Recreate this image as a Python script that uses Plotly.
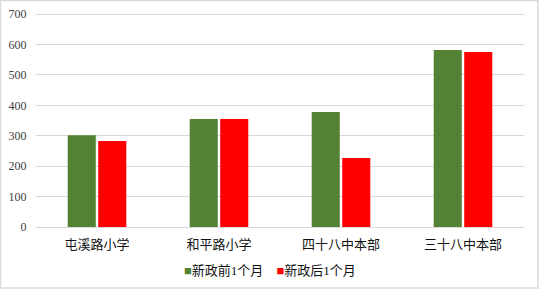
import plotly.graph_objects as go

categories = ["屯溪路小学", "和平路小学", "四十八中本部", "三十八中本部"]
before = [302, 355, 378, 582]
after = [283, 355, 227, 575]
series_names = ["新政前1个月", "新政后1个月"]
colors = ["#548235", "#FF0000"]

fig = go.Figure()
for name, vals, c in zip(series_names, [before, after], colors):
    fig.add_trace(go.Bar(x=categories, y=vals, name=name, marker_color=c, marker_line_width=0))

font_family = "'Liberation Serif', 'Noto Sans CJK SC'"
plot_h = 289 - 8 - 62
fig.update_layout(
    width=539, height=289,
    margin=dict(l=36, r=15, t=8, b=62),
    paper_bgcolor="white", plot_bgcolor="white",
    barmode="group", bargap=0.5, bargroupgap=0.08,
    font=dict(family=font_family, color="#404040", size=12),
    showlegend=False,
    xaxis=dict(showgrid=False, showline=True, linecolor="#d9d9d9", linewidth=1,
               tickfont=dict(size=13, color="#111"), ticks="outside", ticklen=5,
               tickcolor="rgba(0,0,0,0)"),
    yaxis=dict(range=[0, 720], tickvals=[0, 100, 200, 300, 400, 500, 600, 700],
               showgrid=True, gridcolor="#d9d9d9", gridwidth=1,
               zeroline=False, showline=False, tickfont=dict(size=12, color="#404040"),
               ticks="outside", ticklen=6, tickcolor="rgba(0,0,0,0)"),
)
legend_text = "&nbsp;&nbsp;&nbsp;&nbsp;".join(
    f"<span style='color:{c}'>■</span>{n}" for n, c in zip(series_names, colors)
)
fig.add_annotation(xref="paper", yref="paper", x=(270 - 36) / 488, y=-(270 - 227) / plot_h,
                   text=legend_text, showarrow=False, xanchor="center", yanchor="middle",
                   font=dict(size=13, color="#111"))
fig.add_shape(type="rect", xref="x domain", yref="y domain", x0=-35.5/488, x1=1+14/488,
              y0=-61/plot_h, y1=1+7.5/plot_h, line=dict(color="#d9d9d9", width=1.5))
fig.write_html("out.html")
